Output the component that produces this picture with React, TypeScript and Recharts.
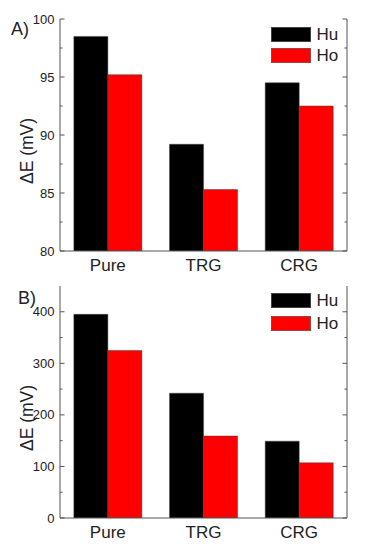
import React from 'react';
import { BarChart, Bar, XAxis, YAxis, Legend, Label } from 'recharts';

const categories = ['Pure', 'TRG', 'CRG'];
const huA = [98.5, 89.2, 94.5];
const hoA = [95.2, 85.3, 92.5];
const huB = [395, 242, 149];
const hoB = [325, 159, 107];
const majorA = [80, 85, 90, 95, 100];
const minorA = [82.5, 87.5, 92.5, 97.5];
const majorB = [0, 100, 200, 300, 400];
const minorB = [50, 150, 250, 350];
const seriesNames = ['Hu', 'Ho'];
const colors = ['#000000', '#ff0000'];

const FONT = '"Liberation Sans", Arial, Helvetica, sans-serif';
const AXIS = '#555';
const TXT = '#222';

const build = (hu: number[], ho: number[]) =>
  categories.map((c, i) => ({ cat: c, Hu: hu[i], Ho: ho[i] }));

const CatTick = (p: any) => (
  <text x={p.x} y={p.y + 19.8} textAnchor="middle" fontSize={17} fontFamily={FONT} fill={TXT}>
    {p.payload.value}
  </text>
);

const makeLeftTick = (majors: number[]) => (p: any) => {
  const v = p.payload.value;
  const isMajor = majors.includes(v);
  return (
    <g>
      <line x1={p.x} x2={p.x + (isMajor ? 4.5 : 2.5)} y1={p.y} y2={p.y} stroke={AXIS} strokeWidth={1} />
      {isMajor && (
        <text x={p.x - 5.5} y={p.y} dy={4.6} textAnchor="end" fontSize={13} fontFamily={FONT} fill={TXT}>
          {v}
        </text>
      )}
    </g>
  );
};

const makeRightTick = (majors: number[]) => (p: any) => {
  const v = p.payload.value;
  const isMajor = majors.includes(v);
  return <line x1={p.x} x2={p.x - (isMajor ? 4.5 : 2.5)} y1={p.y} y2={p.y} stroke={AXIS} strokeWidth={1} />;
};

const LegendBox = ({ pitch }: { pitch: number }) => (
  <div style={{ fontFamily: FONT }}>
    {seriesNames.map((n, i) => (
      <div key={n} style={{ display: 'flex', alignItems: 'center', height: 15, marginBottom: pitch - 15 }}>
        <svg width={40} height={15} style={{ display: 'block' }}>
          <rect x={0.25} y={0.25} width={39.5} height={14.5} fill={colors[i]} stroke="#444" strokeWidth={0.5} />
        </svg>
        <span style={{ marginLeft: 5.5, fontSize: 17, color: TXT, lineHeight: '15px' }}>{n}</span>
      </div>
    ))}
  </div>
);

type PanelProps = {
  data: any[];
  domain: [number, number];
  majors: number[];
  minors: number[];
  tag: string;
  tagX: number;
  tagY: number;
  height: number;
  marginTop: number;
  xHeight: number;
  legendTop: number;
  legendPitch: number;
};

const Panel = (pp: PanelProps) => {
  const ticks = [...pp.majors, ...pp.minors].sort((a, b) => a - b);
  const renderLabel = (props: any) => {
    const vb = props.viewBox || { x: 0, y: pp.marginTop, width: 60, height: 232 };
    const cy = vb.y + vb.height / 2 + 16;
    const cx = 33;
    return (
      <g>
        <text
          x={cx}
          y={cy}
          textAnchor="middle"
          transform={`rotate(-90, ${cx}, ${cy})`}
          fontSize={17.5}
          fontFamily={FONT}
          fill={TXT}
        >
          ΔE (mV)
        </text>
        <text x={pp.tagX} y={pp.tagY} fontSize={18} fontFamily={FONT} fill={TXT}>
          {pp.tag}
        </text>
      </g>
    );
  };
  return (
    <BarChart
      width={367}
      height={pp.height}
      data={pp.data}
      margin={{ top: pp.marginTop, right: 0, left: 0, bottom: 0 }}
      barCategoryGap="14.5%"
      barGap={0}
    >
      <XAxis
        xAxisId="bottom"
        dataKey="cat"
        height={pp.xHeight}
        axisLine={{ stroke: AXIS, strokeWidth: 1 }}
        tickLine={false}
        tickSize={0}
        tickMargin={0}
        tick={<CatTick />}
        interval={0}
      />
      <XAxis
        xAxisId="top"
        dataKey="cat"
        orientation="top"
        height={0}
        axisLine={{ stroke: AXIS, strokeWidth: 1 }}
        tickLine={false}
        tick={false}
      />
      <YAxis
        yAxisId="left"
        width={60}
        domain={pp.domain}
        ticks={ticks}
        interval={0}
        allowDataOverflow
        axisLine={{ stroke: AXIS, strokeWidth: 1 }}
        tickLine={false}
        tickSize={0}
        tickMargin={0}
        tick={makeLeftTick(pp.majors)}
        label={<Label content={renderLabel} />}
      />
      <YAxis
        yAxisId="right"
        orientation="right"
        width={20}
        domain={pp.domain}
        ticks={ticks}
        interval={0}
        allowDataOverflow
        axisLine={{ stroke: AXIS, strokeWidth: 1 }}
        tickLine={false}
        tickSize={0}
        tickMargin={0}
        tick={makeRightTick(pp.majors)}
      />
      <Legend
        layout="horizontal"
        verticalAlign="middle"
        align="center"
        wrapperStyle={{ left: 271, top: pp.legendTop, width: 80 }}
        content={() => <LegendBox pitch={pp.legendPitch} />}
      />
      {seriesNames.map((n, i) => (
        <Bar
          key={n}
          dataKey={n}
          xAxisId="bottom"
          yAxisId="left"
          fill={colors[i]}
          stroke="#444"
          strokeWidth={0.5}
          isAnimationActive={false}
        />
      ))}
    </BarChart>
  );
};

export default function App() {
  return (
    <div style={{ position: 'absolute', left: 0, top: 0, width: 367, height: 545, background: '#fff' }}>
      <div style={{ position: 'absolute', left: 0, top: 0 }}>
        <Panel
          data={build(huA, hoA)}
          domain={[80, 100]}
          majors={majorA}
          minors={minorA}
          tag="A)"
          tagX={11}
          tagY={35}
          height={280}
          marginTop={19}
          xHeight={29}
          legendTop={27}
          legendPitch={21}
        />
      </div>
      <div style={{ position: 'absolute', left: 0, top: 272 }}>
        <Panel
          data={build(huB, hoB)}
          domain={[0, 450]}
          majors={majorB}
          minors={minorB}
          tag="B)"
          tagX={18}
          tagY={31.5}
          height={273}
          marginTop={14}
          xHeight={27}
          legendTop={21}
          legendPitch={22.5}
        />
      </div>
    </div>
  );
}
